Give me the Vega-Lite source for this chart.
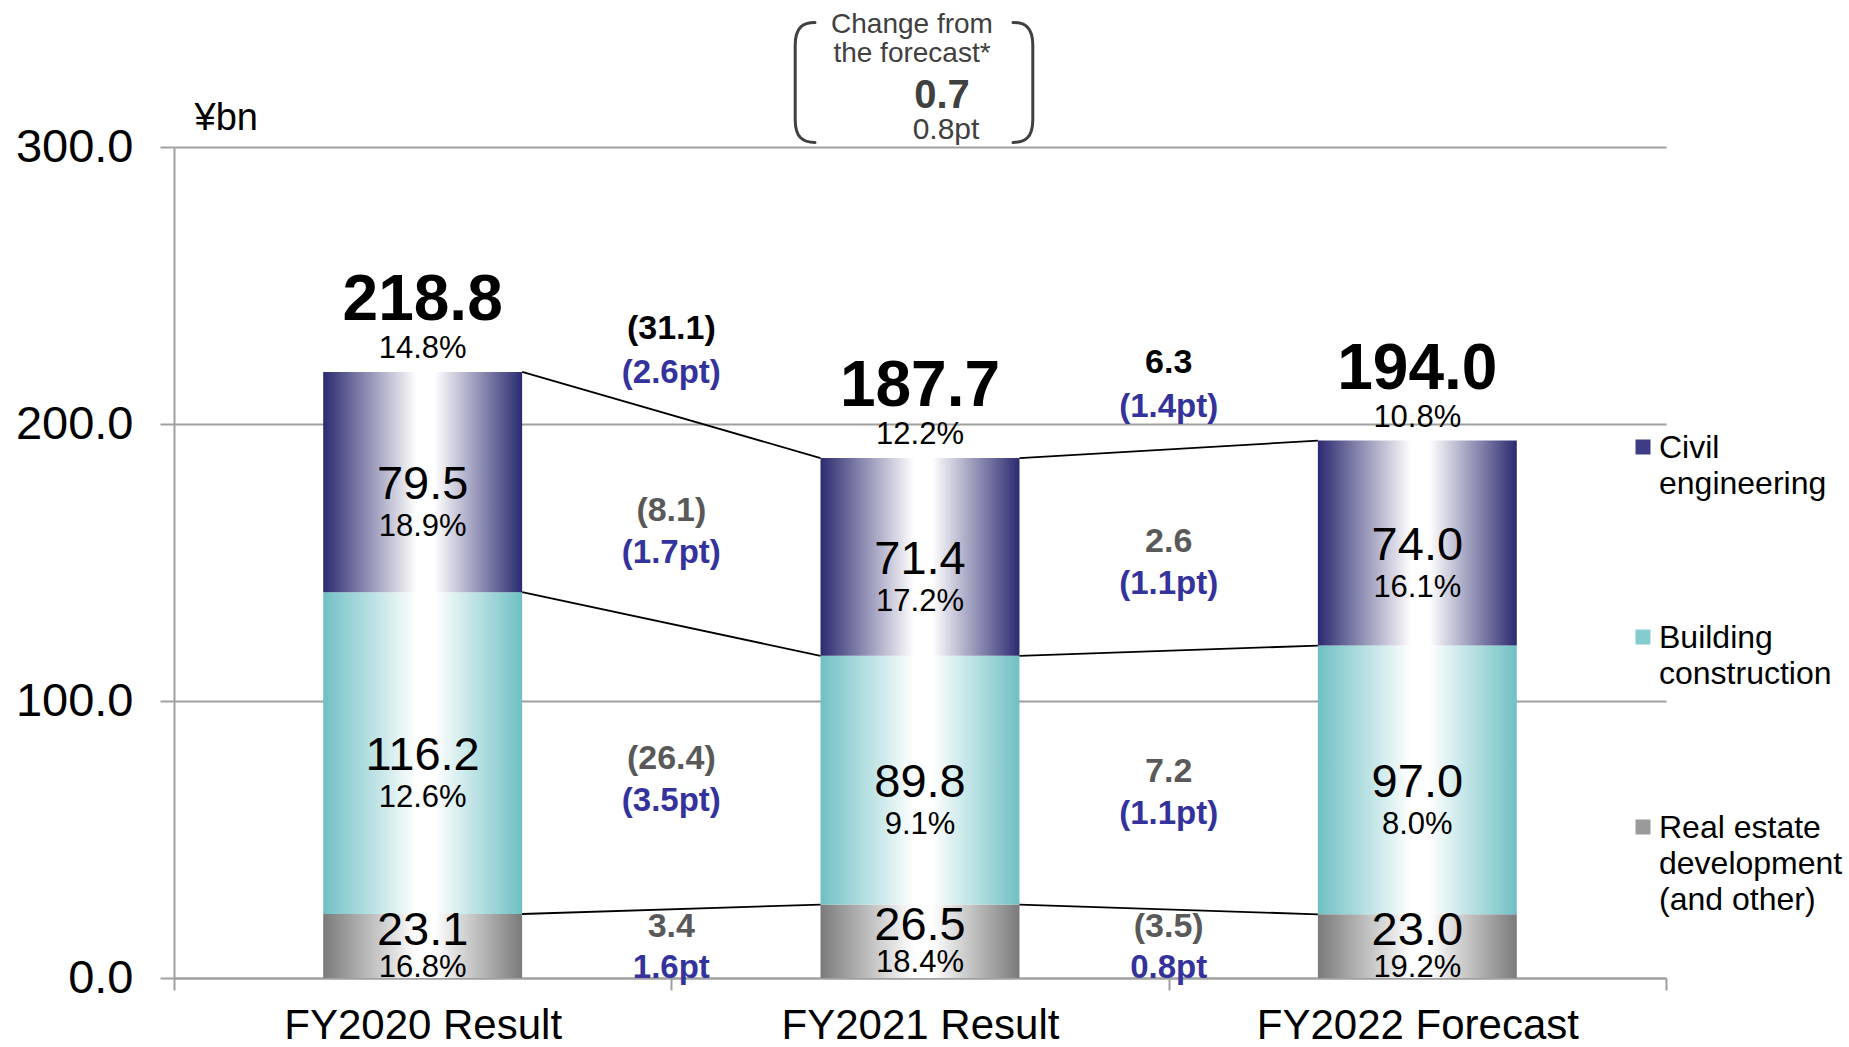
{
  "$schema": "https://vega.github.io/schema/vega-lite/v6.json",
  "width": 1492,
  "height": 831,
  "autosize": {"type": "none"},
  "padding": {"left": 174, "top": 147, "right": 183, "bottom": 69},
  "background": "white",
  "config": {
    "font": "Liberation Sans",
    "view": {"stroke": null},
    "scale": {"bandPaddingInner": 0, "bandPaddingOuter": 0, "barBandPaddingInner": 0}
  },
  "datasets": {
    "segments": [
      {"cat": "FY2020 Result", "seg": "Real estate development (and other)", "rank": 1, "value": 23.1, "pct": "16.8%"},
      {"cat": "FY2020 Result", "seg": "Building construction", "rank": 2, "value": 116.2, "pct": "12.6%"},
      {"cat": "FY2020 Result", "seg": "Civil engineering", "rank": 3, "value": 79.5, "pct": "18.9%"},
      {"cat": "FY2021 Result", "seg": "Real estate development (and other)", "rank": 1, "value": 26.5, "pct": "18.4%"},
      {"cat": "FY2021 Result", "seg": "Building construction", "rank": 2, "value": 89.8, "pct": "9.1%"},
      {"cat": "FY2021 Result", "seg": "Civil engineering", "rank": 3, "value": 71.4, "pct": "17.2%"},
      {"cat": "FY2022 Forecast", "seg": "Real estate development (and other)", "rank": 1, "value": 23.0, "pct": "19.2%"},
      {"cat": "FY2022 Forecast", "seg": "Building construction", "rank": 2, "value": 97.0, "pct": "8.0%"},
      {"cat": "FY2022 Forecast", "seg": "Civil engineering", "rank": 3, "value": 74.0, "pct": "16.1%"}
    ],
    "totals": [
      {"cat": "FY2020 Result", "total": 218.8, "pct": "14.8%"},
      {"cat": "FY2021 Result", "total": 187.7, "pct": "12.2%"},
      {"cat": "FY2022 Forecast", "total": 194.0, "pct": "10.8%"}
    ],
    "changes": [
      {"from": "FY2020 Result", "to": "FY2021 Result", "seg": "Total", "chg": "(31.1)", "pt": "(2.6pt)", "lo_from": 218.8, "hi_from": 218.8, "lo_to": 187.7, "hi_to": 187.7},
      {"from": "FY2020 Result", "to": "FY2021 Result", "seg": "Civil engineering", "chg": "(8.1)", "pt": "(1.7pt)", "lo_from": 139.3, "hi_from": 218.8, "lo_to": 116.3, "hi_to": 187.7},
      {"from": "FY2020 Result", "to": "FY2021 Result", "seg": "Building construction", "chg": "(26.4)", "pt": "(3.5pt)", "lo_from": 23.1, "hi_from": 139.3, "lo_to": 26.5, "hi_to": 116.3},
      {"from": "FY2020 Result", "to": "FY2021 Result", "seg": "Real estate development (and other)", "chg": "3.4", "pt": "1.6pt", "lo_from": 0, "hi_from": 23.1, "lo_to": 0, "hi_to": 26.5},
      {"from": "FY2021 Result", "to": "FY2022 Forecast", "seg": "Total", "chg": "6.3", "pt": "(1.4pt)", "lo_from": 187.7, "hi_from": 187.7, "lo_to": 194.0, "hi_to": 194.0},
      {"from": "FY2021 Result", "to": "FY2022 Forecast", "seg": "Civil engineering", "chg": "2.6", "pt": "(1.1pt)", "lo_from": 116.3, "hi_from": 187.7, "lo_to": 120.0, "hi_to": 194.0},
      {"from": "FY2021 Result", "to": "FY2022 Forecast", "seg": "Building construction", "chg": "7.2", "pt": "(1.1pt)", "lo_from": 26.5, "hi_from": 116.3, "lo_to": 23.0, "hi_to": 120.0},
      {"from": "FY2021 Result", "to": "FY2022 Forecast", "seg": "Real estate development (and other)", "chg": "(3.5)", "pt": "0.8pt", "lo_from": 0, "hi_from": 26.5, "lo_to": 0, "hi_to": 23.0}
    ],
    "box": [
      {"l1": "Change from", "l2": "the forecast*", "c": "0.7", "p": "0.8pt"}
    ]
  },
  "layer": [
    {
      "data": {"name": "segments"},
      "transform": [
        {"stack": "value", "groupby": ["cat"], "sort": [{"field": "rank", "order": "ascending"}], "as": ["y0", "y1"]}
      ],
      "encoding": {
        "x": {
          "field": "cat", "type": "nominal", "title": null,
          "scale": {"type": "band", "domain": ["FY2020 Result", "FY2021 Result", "FY2022 Forecast"], "paddingInner": 0, "paddingOuter": 0},
          "axis": {
            "labelFontSize": 42, "labelColor": "#000000", "labelPadding": 15, "labelAngle": 0, "labelLimit": 0,
            "tickSize": 12, "tickColor": "#a0a0a0", "tickWidth": 2, "tickBand": "extent",
            "domainColor": "#a0a0a0", "domainWidth": 2, "grid": false, "labelOverlap": false
          }
        },
        "y": {
          "field": "y0", "type": "quantitative",
          "scale": {"domain": [0, 300], "nice": false, "zero": true},
          "axis": {
            "values": [0, 100, 200, 300], "format": ".1f",
            "labelFontSize": 47, "labelColor": "#000000", "labelPadding": 27,
            "tickSize": 14, "tickColor": "#a0a0a0", "tickWidth": 2,
            "grid": true, "gridColor": "#a0a0a0", "gridWidth": 2,
            "domainColor": "#a0a0a0", "domainWidth": 2,
            "title": "¥bn", "titleFontSize": 38, "titleFontWeight": "normal", "titleAngle": 0,
            "titleAlign": "left", "titleBaseline": "middle", "titleX": 20, "titleY": -29, "titleColor": "#000000"
          }
        },
        "y2": {"field": "y1"}
      },
      "layer": [
        {
          "transform": [{"filter": "datum.rank == 1"}],
          "mark": {"type": "bar", "width": {"band": 0.4}, "color": {"gradient": "linear", "x1": 0, "y1": 0, "x2": 1, "y2": 0, "stops": [{"offset": 0, "color": "#7a7a7a"}, {"offset": 0.47, "color": "#ffffff"}, {"offset": 0.56, "color": "#ffffff"}, {"offset": 1, "color": "#7a7a7a"}]}}
        },
        {
          "transform": [{"filter": "datum.rank == 2"}],
          "mark": {"type": "bar", "width": {"band": 0.4}, "color": {"gradient": "linear", "x1": 0, "y1": 0, "x2": 1, "y2": 0, "stops": [{"offset": 0, "color": "#6fc0c4"}, {"offset": 0.47, "color": "#ffffff"}, {"offset": 0.56, "color": "#ffffff"}, {"offset": 1, "color": "#6fc0c4"}]}}
        },
        {
          "transform": [{"filter": "datum.rank == 3"}],
          "mark": {"type": "bar", "width": {"band": 0.4}, "color": {"gradient": "linear", "x1": 0, "y1": 0, "x2": 1, "y2": 0, "stops": [{"offset": 0, "color": "#2b2a70"}, {"offset": 0.47, "color": "#ffffff"}, {"offset": 0.56, "color": "#ffffff"}, {"offset": 1, "color": "#2b2a70"}]}}
        }
      ]
    },
    {
      "data": {"name": "changes"},
      "transform": [{"filter": "datum.seg != 'Total'"}],
      "mark": {"type": "rule", "color": "#000000", "strokeWidth": 1.8},
      "encoding": {
        "x": {"field": "from", "type": "nominal", "bandPosition": 0.7, "title": null, "scale": {"type": "band"}},
        "x2": {"field": "to", "bandPosition": 0.3},
        "y": {"field": "hi_from", "type": "quantitative"},
        "y2": {"field": "hi_to"}
      }
    },
    {
      "data": {"name": "segments"},
      "transform": [
        {"stack": "value", "groupby": ["cat"], "sort": [{"field": "rank", "order": "ascending"}], "as": ["y0", "y1"]},
        {"fold": ["y0", "y1"], "as": ["k", "v"]},
        {"aggregate": [{"op": "mean", "field": "v", "as": "mid"}], "groupby": ["cat", "seg", "rank", "value", "pct"]}
      ],
      "encoding": {
        "x": {"field": "cat", "type": "nominal", "title": null, "scale": {"type": "band"}},
        "y": {"field": "mid", "type": "quantitative"}
      },
      "layer": [
        {
          "transform": [{"filter": "datum.rank != 1"}],
          "mark": {"type": "text", "fontSize": 47, "color": "#000000", "baseline": "middle", "align": "center", "dy": 3},
          "encoding": {"text": {"field": "value", "type": "quantitative", "format": ".1f"}}
        },
        {
          "transform": [{"filter": "datum.rank != 1"}],
          "mark": {"type": "text", "fontSize": 31, "color": "#000000", "baseline": "middle", "align": "center", "dy": 45},
          "encoding": {"text": {"field": "pct", "type": "nominal"}}
        },
        {
          "transform": [{"filter": "datum.rank == 1"}],
          "mark": {"type": "text", "fontSize": 47, "color": "#000000", "baseline": "middle", "align": "center", "dy": -15},
          "encoding": {"text": {"field": "value", "type": "quantitative", "format": ".1f"}}
        },
        {
          "transform": [{"filter": "datum.rank == 1"}],
          "mark": {"type": "text", "fontSize": 31, "color": "#000000", "baseline": "middle", "align": "center", "dy": 22},
          "encoding": {"text": {"field": "pct", "type": "nominal"}}
        }
      ]
    },
    {
      "data": {"name": "totals"},
      "encoding": {
        "x": {"field": "cat", "type": "nominal", "title": null, "scale": {"type": "band"}},
        "y": {"field": "total", "type": "quantitative"}
      },
      "layer": [
        {
          "mark": {"type": "text", "fontSize": 64, "fontWeight": "bold", "color": "#000000", "baseline": "middle", "align": "center", "dy": -71},
          "encoding": {"text": {"field": "total", "type": "quantitative", "format": ".1f"}}
        },
        {
          "mark": {"type": "text", "fontSize": 31, "color": "#000000", "baseline": "middle", "align": "center", "dy": -23},
          "encoding": {"text": {"field": "pct", "type": "nominal"}}
        }
      ]
    },
    {
      "data": {"name": "changes"},
      "transform": [
        {"fold": ["lo_from", "hi_from", "lo_to", "hi_to"], "as": ["k", "v"]},
        {"aggregate": [{"op": "mean", "field": "v", "as": "mid"}], "groupby": ["from", "seg", "chg", "pt"]}
      ],
      "encoding": {
        "x": {"field": "from", "type": "nominal", "bandPosition": 1, "title": null, "scale": {"type": "band"}},
        "y": {"field": "mid", "type": "quantitative"}
      },
      "layer": [
        {
          "transform": [{"filter": "datum.seg == 'Total'"}],
          "mark": {"type": "text", "fontSize": 34, "fontWeight": "bold", "color": "#000000", "baseline": "middle", "align": "center", "dy": -86},
          "encoding": {"text": {"field": "chg", "type": "nominal"}}
        },
        {
          "transform": [{"filter": "datum.seg == 'Total'"}],
          "mark": {"type": "text", "fontSize": 33, "fontWeight": "bold", "color": "#33339b", "baseline": "middle", "align": "center", "dy": -42},
          "encoding": {"text": {"field": "pt", "type": "nominal"}}
        },
        {
          "transform": [{"filter": "datum.seg == 'Civil engineering' || datum.seg == 'Building construction'"}],
          "mark": {"type": "text", "fontSize": 34, "fontWeight": "bold", "color": "#595959", "baseline": "middle", "align": "center", "dy": -8},
          "encoding": {"text": {"field": "chg", "type": "nominal"}}
        },
        {
          "transform": [{"filter": "datum.seg == 'Civil engineering' || datum.seg == 'Building construction'"}],
          "mark": {"type": "text", "fontSize": 33, "fontWeight": "bold", "color": "#33339b", "baseline": "middle", "align": "center", "dy": 34},
          "encoding": {"text": {"field": "pt", "type": "nominal"}}
        },
        {
          "transform": [{"filter": "datum.seg == 'Real estate development (and other)'"}],
          "mark": {"type": "text", "fontSize": 34, "fontWeight": "bold", "color": "#595959", "baseline": "middle", "align": "center", "dy": -17},
          "encoding": {"text": {"field": "chg", "type": "nominal"}}
        },
        {
          "transform": [{"filter": "datum.seg == 'Real estate development (and other)'"}],
          "mark": {"type": "text", "fontSize": 33, "fontWeight": "bold", "color": "#33339b", "baseline": "middle", "align": "center", "dy": 24},
          "encoding": {"text": {"field": "pt", "type": "nominal"}}
        }
      ]
    },
    {
      "data": {"name": "box"},
      "encoding": {
        "x": {"datum": "FY2021 Result", "type": "nominal", "scale": {"type": "band"}},
        "y": {"datum": 323.3, "type": "quantitative"}
      },
      "layer": [
        {
          "mark": {"type": "point", "shape": "M -1.75 -1 C -1.95 -1 -2.08 -0.92 -2.08 -0.62 L -2.08 0.62 C -2.08 0.92 -1.95 1 -1.75 1 M 1.55 -1 C 1.75 -1 1.88 -0.92 1.88 -0.62 L 1.88 0.62 C 1.88 0.92 1.75 1 1.55 1", "size": 14400, "filled": false, "stroke": "#404040", "strokeWidth": 3, "opacity": 1, "strokeCap": "round"}
        },
        {
          "mark": {"type": "text", "fontSize": 28, "color": "#404040", "baseline": "middle", "align": "center", "dx": -8, "dy": -57},
          "encoding": {"text": {"field": "l1", "type": "nominal"}}
        },
        {
          "mark": {"type": "text", "fontSize": 28, "color": "#404040", "baseline": "middle", "align": "center", "dx": -8, "dy": -28},
          "encoding": {"text": {"field": "l2", "type": "nominal"}}
        },
        {
          "mark": {"type": "text", "fontSize": 40, "fontWeight": "bold", "color": "#404040", "baseline": "middle", "align": "center", "dx": 22, "dy": 14},
          "encoding": {"text": {"field": "c", "type": "nominal"}}
        },
        {
          "mark": {"type": "text", "fontSize": 30, "color": "#404040", "baseline": "middle", "align": "center", "dx": 26, "dy": 48},
          "encoding": {"text": {"field": "p", "type": "nominal"}}
        }
      ]
    },
    {
      "data": {"name": "segments"},
      "mark": {"type": "point", "opacity": 0, "filled": true},
      "encoding": {
        "x": {"field": "cat", "type": "nominal", "title": null, "scale": {"type": "band"}},
        "y": {"field": "value", "type": "quantitative"},
        "color": {
          "field": "seg", "type": "nominal",
          "scale": {"domain": ["Civil engineering", "Building construction", "Real estate development (and other)"], "range": ["#3d3c84", "#85cccf", "#9a9a9a"]},
          "legend": {
            "title": null, "orient": "none", "legendX": 1453, "legendY": 284, "direction": "vertical",
            "symbolType": "square", "symbolSize": 225, "symbolOpacity": 1, "symbolStrokeWidth": 0,
            "labelFontSize": 32, "labelColor": "#000000", "labelLimit": 0, "labelOffset": 0,
            "labelBaseline": "alphabetic", "rowPadding": 121, "padding": 0,
            "labelExpr": "datum.value == 'Civil engineering' ? ['Civil', 'engineering'] : datum.value == 'Building construction' ? ['Building', 'construction'] : ['Real estate', 'development', '(and other)']",
            "encode": {"labels": {"update": {"dy": {"value": 11}, "lineHeight": {"value": 36}}}}
          }
        }
      }
    }
  ]
}
